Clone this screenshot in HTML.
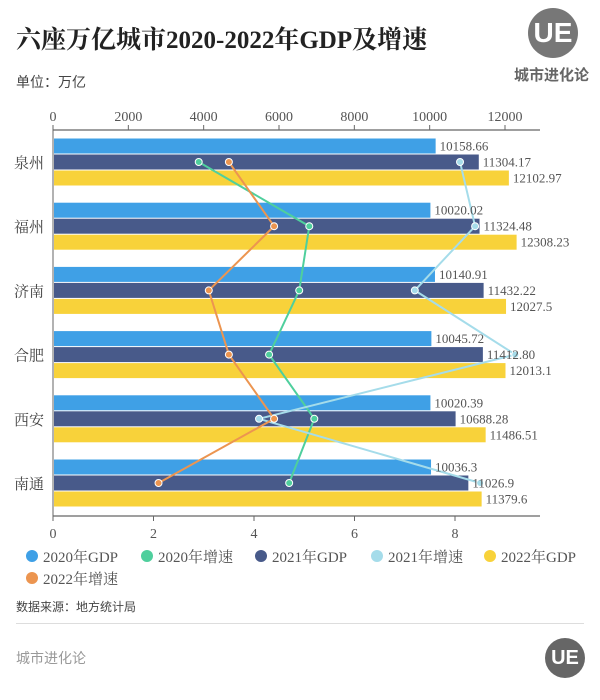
<!DOCTYPE html>
<html><head><meta charset="utf-8">
<style>
body{margin:0;background:#fff;font-family:"Liberation Serif","Noto Serif CJK SC",serif;}
#wrap{position:relative;width:600px;height:700px;overflow:hidden;background:#fff}
.t{position:absolute;white-space:nowrap}
</style></head>
<body>
<div id="wrap">
<div class="t" style="left:16px;top:20px;font-size:25px;font-weight:bold;color:#222;font-family:'Liberation Serif','Noto Serif CJK SC',serif">六座万亿城市2020-2022年GDP及增速</div>
<div class="t" style="left:16px;top:72px;font-size:14px;color:#444;font-family:'Liberation Sans','Noto Sans CJK SC',sans-serif">单位：万亿</div>
<div style="position:absolute;left:528px;top:8px;width:50px;height:50px;border-radius:50%;background:#777;color:#fff;font:bold 28px 'Liberation Sans',sans-serif;text-align:center;line-height:50px">UE</div>
<div class="t" style="left:514px;top:64px;font-size:15px;font-weight:bold;color:#666;font-family:'Liberation Sans','Noto Sans CJK SC',sans-serif">城市进化论</div>
<svg id="chart" width="600" height="600" style="position:absolute;left:0;top:0"></svg>
<div class="t" style="left:16px;top:598px;font-size:12px;color:#444;font-family:'Liberation Sans','Noto Sans CJK SC',sans-serif">数据来源：地方统计局</div>
<div style="position:absolute;left:16px;top:623px;width:568px;height:1px;background:#ddd"></div>
<div class="t" style="left:16px;top:648px;font-size:14px;color:#999;font-family:'Liberation Sans','Noto Sans CJK SC',sans-serif">城市进化论</div>
<div style="position:absolute;left:545px;top:638px;width:40px;height:40px;border-radius:50%;background:#666;color:#fff;font:bold 20px 'Liberation Sans',sans-serif;text-align:center;line-height:40px">UE</div>
</div>
<script>
const cities=["泉州","福州","济南","合肥","西安","南通"];
const gdp2020=[10158.66,10020.02,10140.91,10045.72,10020.39,10036.3];
const gdp2021=[11304.17,11324.48,11432.22,11412.80,10688.28,11026.9];
const gdp2022=[12102.97,12308.23,12027.5,12013.1,11486.51,11379.6];
const lbl2020=["10158.66","10020.02","10140.91","10045.72","10020.39","10036.3"];
const lbl2021=["11304.17","11324.48","11432.22","11412.80","10688.28","11026.9"];
const lbl2022=["12102.97","12308.23","12027.5","12013.1","11486.51","11379.6"];
const g2020=[2.9,5.1,4.9,4.3,5.2,4.7];
const g2021=[8.1,8.4,7.2,9.2,4.1,8.5];
const g2022=[3.5,4.4,3.1,3.5,4.4,2.1];
const topTicks=[0,2000,4000,6000,8000,10000,12000];
const botTicks=[0,2,4,6,8];

const svg=document.getElementById('chart');
const NS='http://www.w3.org/2000/svg';
const X0=53,XEND=540;
const xG=v=>X0+v*(452/12000);
const xR=v=>X0+v*(402/8);
const yC=i=>162+i*64.2;
function mk(tag,attrs){const e=document.createElementNS(NS,tag);for(const k in attrs)e.setAttribute(k,attrs[k]);svg.appendChild(e);return e;}
function txt(x,y,s,anchor,size,fill){const e=mk('text',{x:x,y:y,'text-anchor':anchor,'font-size':size,fill:fill,'font-family':"Liberation Serif, Noto Serif CJK SC, serif"});e.textContent=s;return e;}

let a=mk('line',{x1:X0,y1:130,x2:XEND,y2:130,stroke:'#666','stroke-width':1.2});

a=mk('line',{x1:X0,y1:516,x2:XEND,y2:516,stroke:'#666','stroke-width':1.2});

a=mk('line',{x1:X0,y1:130,x2:X0,y2:516,stroke:'#666','stroke-width':1});

topTicks.forEach(v=>{
  const t=mk('line',{x1:xG(v),y1:125,x2:xG(v),y2:130,stroke:'#666'});
  
  const l=txt(xG(v),121,String(v),'middle',14,'#555');
  
});
botTicks.forEach(v=>{
  const t=mk('line',{x1:xR(v),y1:516,x2:xR(v),y2:521,stroke:'#666'});
  
  const l=txt(xR(v),538,String(v),'middle',14,'#555');
  
});
const series=[[gdp2020,lbl2020,'#3fa0e6',-16],[gdp2021,lbl2021,'#485a8a',0],[gdp2022,lbl2022,'#f8d23a',16]];
cities.forEach((c,i)=>{
  const cl=txt(44,yC(i)+6,c,'end',15,'#444');
  
  series.forEach(s=>{
    const y=yC(i)+s[3]-7.5;
    const b=mk('rect',{x:X0+1,y:y,width:xG(s[0][i])-X0-1,height:15,fill:s[2]});
    
  });
});
const lines=[[g2020,'#4fcf9d'],[g2021,'#a5dcea'],[g2022,'#ec9550']];
lines.forEach(L=>{
  const pts=L[0].map((v,i)=>xR(v)+','+yC(i)).join(' ');
  const p=mk('polyline',{points:pts,fill:'none',stroke:L[1],'stroke-width':2});
  
});
lines.forEach(L=>{
  L[0].forEach((v,i)=>{
    const d=mk('circle',{cx:xR(v),cy:yC(i),r:3.5,fill:L[1],stroke:'#fff','stroke-width':1});
    
  });
});
cities.forEach((c,i)=>{
  series.forEach(s=>{
    const y=yC(i)+s[3]-7.5;
    const l=txt(xG(s[0][i])+4,y+12,s[1][i],'start',13,'#555');
    
  });
});
const legNames=["2020年GDP","2020年增速","2021年GDP","2021年增速","2022年GDP","2022年增速"];
const legColors=['#3fa0e6','#4fcf9d','#485a8a','#a5dcea','#f8d23a','#ec9550'];
const legX=[32,147,261,377,490,32];
const legY=[556,556,556,556,556,578];
legNames.forEach((n,i)=>{
  const c=mk('circle',{cx:legX[i],cy:legY[i],r:6,fill:legColors[i]});
  
  const t=txt(legX[i]+11,legY[i]+6,n,'start',15,'#555');
  
});
</script>
</body></html>
